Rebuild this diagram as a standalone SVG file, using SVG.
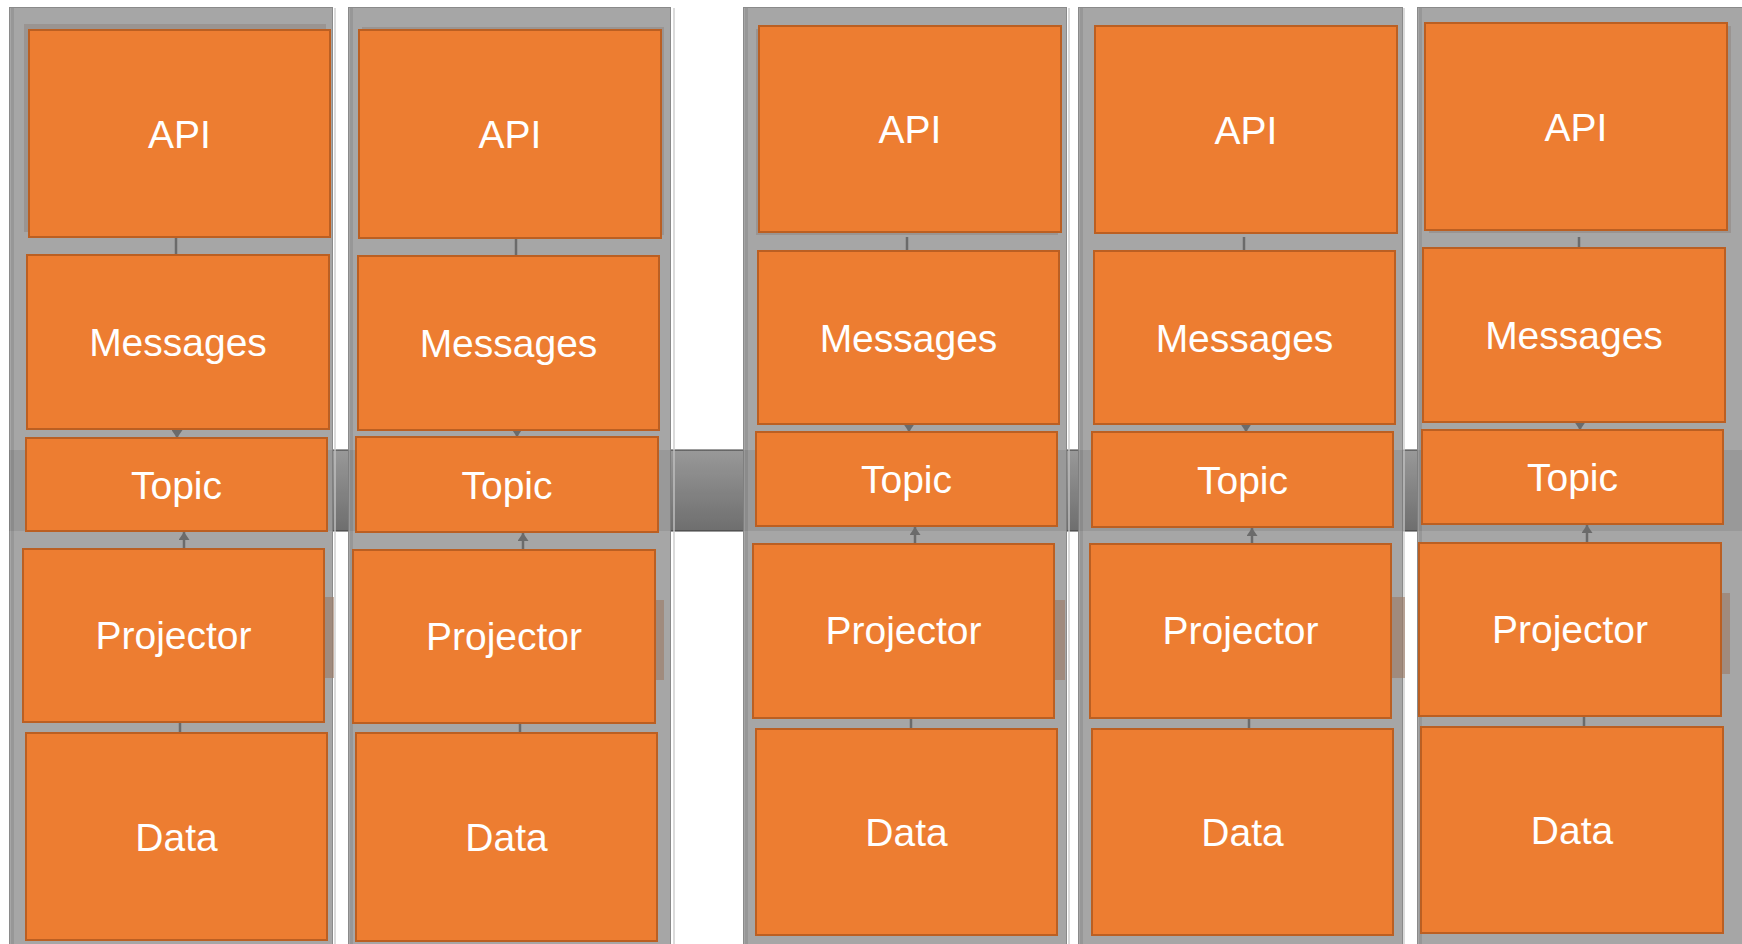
<svg xmlns="http://www.w3.org/2000/svg" width="1742" height="944" viewBox="0 0 1742 944">
<style>
.panel{fill:#a6a6a6;stroke:#8a8a8a;stroke-width:1}
.pstrip{fill:#979797}
.pedge{stroke:#cfcfcf;stroke-width:1.5}
.box{fill:#ed7d31;stroke:#bb5f22;stroke-width:2}
.shadow{fill:#8f8580;opacity:0.55}
.side{fill:#9c7a64;opacity:0.6}
.lbl{font-family:"Liberation Sans",Arial,sans-serif;font-size:39px;fill:#ffffff;text-anchor:middle}
.con{stroke:#6b6b6b;stroke-width:2.5;fill:none}
</style>
<defs>
<linearGradient id="bandGrad" x1="0" y1="0" x2="0" y2="1">
<stop offset="0" stop-color="#a6a6a6"/>
<stop offset="1" stop-color="#787878"/>
</linearGradient>
<marker id="arr" viewBox="0 0 8 11" refX="8" refY="5.5" markerWidth="8" markerHeight="11" markerUnits="userSpaceOnUse" orient="auto">
<path d="M0,0 L8,5.5 L0,11 z" fill="#6b6b6b"/>
</marker>
</defs>
<rect width="1742" height="944" fill="#ffffff"/>
<g id="band-under">
<rect x="9" y="450" width="1733" height="81" fill="url(#bandGrad)"/>
<line x1="9" y1="450" x2="1742" y2="450" stroke="#3a3a3a" stroke-width="1"/>
<line x1="9" y1="531" x2="1742" y2="531" stroke="#3a3a3a" stroke-width="1"/>
</g>
<g id="panels">
<rect class="panel" x="9.5" y="7.5" width="323" height="945"/>
<rect class="pstrip" x="11" y="8" width="3" height="944"/>
<line class="pedge" x1="335" y1="8" x2="335" y2="944"/>
<rect class="panel" x="348.5" y="7.5" width="322" height="945"/>
<rect class="pstrip" x="350" y="8" width="3" height="944"/>
<line class="pedge" x1="674" y1="8" x2="674" y2="944"/>
<rect class="panel" x="743.5" y="7.5" width="323" height="945"/>
<rect class="pstrip" x="745" y="8" width="3" height="944"/>
<line class="pedge" x1="1069" y1="8" x2="1069" y2="944"/>
<rect class="panel" x="1078.5" y="7.5" width="324" height="945"/>
<rect class="pstrip" x="1080" y="8" width="3" height="944"/>
<line class="pedge" x1="1404" y1="8" x2="1404" y2="944"/>
<rect class="panel" x="1417.5" y="7.5" width="330" height="945"/>
<rect class="pstrip" x="1419" y="8" width="3" height="944"/>
</g>
<g id="band-over">
<rect x="9" y="450" width="1733" height="81" fill="#000000" opacity="0.08"/>
</g>
<g id="shadows">
<rect class="shadow" x="24" y="24" width="302" height="208"/>
<rect class="shadow" x="362" y="27" width="302" height="208"/>
<rect class="shadow" x="756" y="29" width="302" height="206"/>
<rect class="shadow" x="1429" y="26" width="302" height="207"/>
<rect class="side" x="325" y="597" width="9" height="81"/>
<rect class="side" x="655" y="600" width="9" height="80"/>
<rect class="side" x="1055" y="600" width="10" height="80"/>
<rect class="side" x="1391" y="597" width="14" height="81"/>
<rect class="side" x="1721" y="593" width="9" height="81"/>
</g>
<g id="connectors">
<line class="con" x1="176" y1="237" x2="176" y2="255"/>
<line class="con" x1="177" y1="429" x2="177" y2="438" marker-end="url(#arr)"/>
<line class="con" x1="184" y1="549" x2="184" y2="532" marker-end="url(#arr)"/>
<line class="con" x1="180" y1="722" x2="180" y2="733"/>
<line class="con" x1="516" y1="238" x2="516" y2="256"/>
<line class="con" x1="517" y1="430" x2="517" y2="437" marker-end="url(#arr)"/>
<line class="con" x1="523" y1="550" x2="523" y2="533" marker-end="url(#arr)"/>
<line class="con" x1="520" y1="723" x2="520" y2="733"/>
<line class="con" x1="907" y1="237" x2="907" y2="251"/>
<line class="con" x1="909" y1="424" x2="909" y2="432" marker-end="url(#arr)"/>
<line class="con" x1="915" y1="544" x2="915" y2="527" marker-end="url(#arr)"/>
<line class="con" x1="911" y1="718" x2="911" y2="729"/>
<line class="con" x1="1244" y1="237" x2="1244" y2="251"/>
<line class="con" x1="1246" y1="424" x2="1246" y2="432" marker-end="url(#arr)"/>
<line class="con" x1="1252" y1="544" x2="1252" y2="528" marker-end="url(#arr)"/>
<line class="con" x1="1249" y1="718" x2="1249" y2="729"/>
<line class="con" x1="1579" y1="237" x2="1579" y2="248"/>
<line class="con" x1="1580" y1="422" x2="1580" y2="430" marker-end="url(#arr)"/>
<line class="con" x1="1587" y1="543" x2="1587" y2="525" marker-end="url(#arr)"/>
<line class="con" x1="1584" y1="716" x2="1584" y2="727"/>
</g>
<g id="c1-api"><rect class="box" x="29" y="30" width="301" height="207"/><text class="lbl" x="179.5" y="147.5">API</text></g>
<g id="c1-messages"><rect class="box" x="27" y="255" width="302" height="174"/><text class="lbl" x="178" y="356">Messages</text></g>
<g id="c1-topic"><rect class="box" x="26" y="438" width="301" height="93"/><text class="lbl" x="176.5" y="498.5">Topic</text></g>
<g id="c1-projector"><rect class="box" x="23" y="549" width="301" height="173"/><text class="lbl" x="173.5" y="649">Projector</text></g>
<g id="c1-data"><rect class="box" x="26" y="733" width="301" height="207"/><text class="lbl" x="176.5" y="851">Data</text></g>
<g id="c2-api"><rect class="box" x="359" y="30" width="302" height="208"/><text class="lbl" x="510" y="148">API</text></g>
<g id="c2-messages"><rect class="box" x="358" y="256" width="301" height="174"/><text class="lbl" x="508.5" y="357">Messages</text></g>
<g id="c2-topic"><rect class="box" x="356" y="437" width="302" height="95"/><text class="lbl" x="507" y="498.5">Topic</text></g>
<g id="c2-projector"><rect class="box" x="353" y="550" width="302" height="173"/><text class="lbl" x="504" y="650">Projector</text></g>
<g id="c2-data"><rect class="box" x="356" y="733" width="301" height="208"/><text class="lbl" x="506.5" y="851">Data</text></g>
<g id="c3-api"><rect class="box" x="759" y="26" width="302" height="206"/><text class="lbl" x="910" y="143">API</text></g>
<g id="c3-messages"><rect class="box" x="758" y="251" width="301" height="173"/><text class="lbl" x="908.5" y="351.5">Messages</text></g>
<g id="c3-topic"><rect class="box" x="756" y="432" width="301" height="94"/><text class="lbl" x="906.5" y="493">Topic</text></g>
<g id="c3-projector"><rect class="box" x="753" y="544" width="301" height="174"/><text class="lbl" x="903.5" y="644">Projector</text></g>
<g id="c3-data"><rect class="box" x="756" y="729" width="301" height="206"/><text class="lbl" x="906.5" y="846">Data</text></g>
<g id="c4-api"><rect class="box" x="1095" y="26" width="302" height="207"/><text class="lbl" x="1246" y="143.5">API</text></g>
<g id="c4-messages"><rect class="box" x="1094" y="251" width="301" height="173"/><text class="lbl" x="1244.5" y="351.5">Messages</text></g>
<g id="c4-topic"><rect class="box" x="1092" y="432" width="301" height="95"/><text class="lbl" x="1242.5" y="493.5">Topic</text></g>
<g id="c4-projector"><rect class="box" x="1090" y="544" width="301" height="174"/><text class="lbl" x="1240.5" y="644">Projector</text></g>
<g id="c4-data"><rect class="box" x="1092" y="729" width="301" height="206"/><text class="lbl" x="1242.5" y="846">Data</text></g>
<g id="c5-api"><rect class="box" x="1425" y="23" width="302" height="207"/><text class="lbl" x="1576" y="140.5">API</text></g>
<g id="c5-messages"><rect class="box" x="1423" y="248" width="302" height="174"/><text class="lbl" x="1574" y="349">Messages</text></g>
<g id="c5-topic"><rect class="box" x="1422" y="430" width="301" height="94"/><text class="lbl" x="1572.5" y="491">Topic</text></g>
<g id="c5-projector"><rect class="box" x="1419" y="543" width="302" height="173"/><text class="lbl" x="1570" y="642.5">Projector</text></g>
<g id="c5-data"><rect class="box" x="1421" y="727" width="302" height="206"/><text class="lbl" x="1572" y="844">Data</text></g>
</svg>
